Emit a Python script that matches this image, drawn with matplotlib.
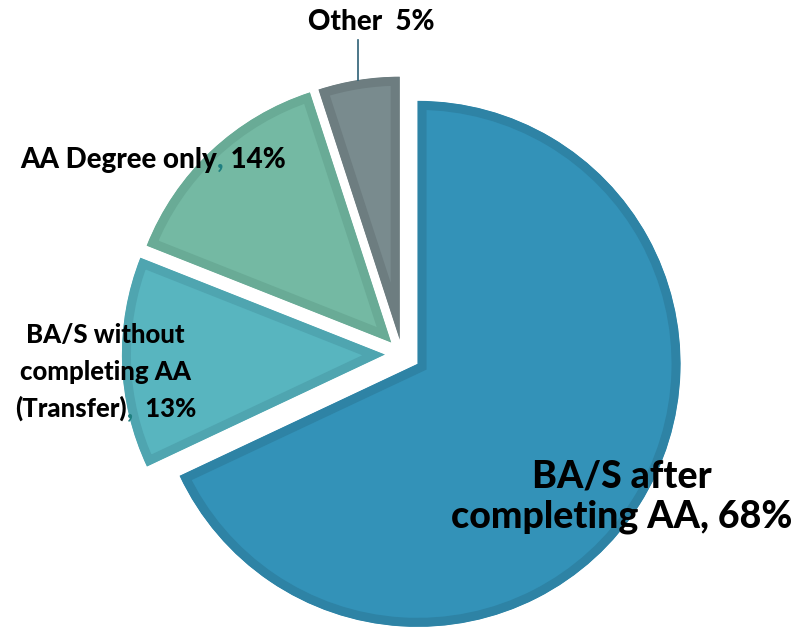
import matplotlib.pyplot as plt

plt.rcParams['font.family'] = ['Lato', 'DejaVu Sans']

# ===== data =====
categories = ['BA/S after completing AA', 'BA/S without completing AA (Transfer)',
              'AA Degree only', 'Other']
shares = [68, 13, 14, 5]
fills = ['#3392b8', '#58b5bf', '#74b9a3', '#798b8e']
edges = ['#2e83a5', '#4fa5b0', '#69ab96', '#6d7d80']
explode = [0.07, 0.065, 0.06, 0.055]

W, H = 805, 629
fig = plt.figure(figsize=(W / 100, H / 100), dpi=100)
ax = fig.add_axes([0, 0, 1, 1])

cx, cy, r = 402, 354, 263  # pixel centre / radius of the pie
wedges, _ = ax.pie(shares, startangle=90, counterclock=False, explode=explode,
                   colors=fills, wedgeprops=dict(linewidth=13))
for w, ec in zip(wedges, edges):
    w.set_edgecolor(ec)
    w.set_joinstyle('miter')
    # keep the border inside the slice (pie turns clipping off)
    w.set_clip_on(True)
    w.set_clip_path(w)

ax.set_xlim(-cx / r, (W - cx) / r)
ax.set_ylim(-(H - cy) / r, cy / r)
ax.axis('off')


def fx(px):
    return px / W


def fy(py):
    return 1 - py / H


comma_col = '#1f7f80'
bold = dict(fontweight='black', color='black')

# ===== labels =====
# Other
ax.text(fx(371), fy(22), 'Other  5%', transform=fig.transFigure,
        ha='center', va='center', fontsize=20, **bold)
ax.plot([fx(358), fx(358)], [fy(40), fy(80)], transform=fig.transFigure,
        color='#2d6075', lw=1.2)

# AA degree only
t = ax.text(fx(217), fy(160), 'AA Degree only', transform=fig.transFigure,
            ha='right', va='center', fontsize=20, **bold)
c = ax.annotate(',', xy=(1, 0), xycoords=t, va='bottom', ha='left',
                fontsize=20, fontweight='black', color=comma_col)
ax.annotate(' 14%', xy=(1, 0), xycoords=c, va='bottom', ha='left',
            fontsize=20, **bold)

# Transfer
ax.text(fx(105), fy(335), 'BA/S without', transform=fig.transFigure,
        ha='center', va='center', fontsize=18.5, **bold)
ax.text(fx(105), fy(372), 'completing AA', transform=fig.transFigure,
        ha='center', va='center', fontsize=18.5, **bold)
t = ax.text(fx(127), fy(408), '(Transfer)', transform=fig.transFigure,
            ha='right', va='center', fontsize=18.5, **bold)
c = ax.annotate(',', xy=(1, 0), xycoords=t, va='bottom', ha='left',
                fontsize=18.5, fontweight='black', color=comma_col)
ax.annotate('  13%', xy=(1, 0), xycoords=c, va='bottom', ha='left',
            fontsize=18.5, **bold)

# big slice
ax.text(fx(622), fy(497), 'BA/S after\ncompleting AA, 68%', transform=fig.transFigure,
        ha='center', va='center', fontsize=27, linespacing=1.2, **bold)

fig.savefig('out.png', dpi=100)
